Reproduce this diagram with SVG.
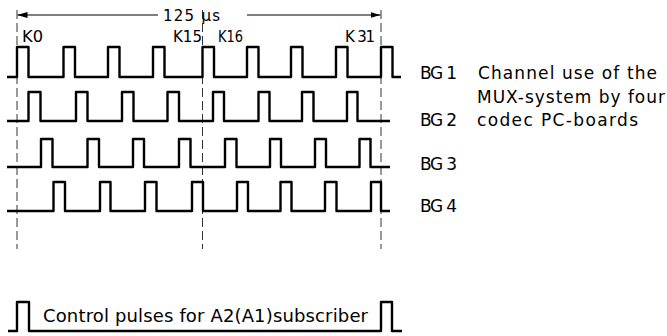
<svg xmlns="http://www.w3.org/2000/svg" width="667" height="336" viewBox="0 0 667 336">
<style>
.wave{fill:none;stroke:#000;stroke-width:2.4;stroke-linejoin:round;stroke-linecap:butt}
.dash{fill:none;stroke:#333;stroke-width:1;stroke-dasharray:9 4}
.dim{fill:none;stroke:#000;stroke-width:1.2}
.t{font-family:"DejaVu Sans","Liberation Sans",sans-serif;fill:#000}
.k{font-size:15px}
.lb{font-size:17px}
</style>
<defs>
<marker id="ah" viewBox="0 0 10 6" refX="10" refY="3" markerWidth="10" markerHeight="6" markerUnits="userSpaceOnUse" orient="auto-start-reverse">
<path d="M0,0 L10,3 L0,6 Z" fill="#000"/>
</marker>
</defs>
<rect width="667" height="336" fill="#fff"/>
<g id="connectors">
<line class="dash" x1="17" y1="10" x2="17" y2="249"/>
<line class="dash" x1="202.5" y1="10" x2="202.5" y2="249"/>
<line class="dash" x1="381" y1="10" x2="381" y2="249"/>
<line class="dim" x1="158" y1="15" x2="17.5" y2="15" marker-end="url(#ah)"/>
<line class="dim" x1="247" y1="15" x2="380.5" y2="15" marker-end="url(#ah)"/>
</g>
<g id="timescale">
<text class="t" x="163" y="21" font-size="15" textLength="57" lengthAdjust="spacing">125 µs</text>
<text class="t k" x="22" y="42" textLength="21" lengthAdjust="spacingAndGlyphs">K0</text>
<text class="t k" x="173" y="42" textLength="29" lengthAdjust="spacingAndGlyphs">K15</text>
<text class="t k" x="218" y="42" textLength="25" lengthAdjust="spacingAndGlyphs">K16</text>
<text class="t k" x="345" y="42" textLength="30" lengthAdjust="spacing">K 31</text>
</g>
<g id="bg1">
<path class="wave" d="M7,77 H17 V47 H28.5 V77 H63.5 V47 H75 V77 H108 V47 H119.5 V77 H153 V47 H164.5 V77 H202.5 V47 H214 V77 H247 V47 H258.5 V77 H291 V47 H302.5 V77 H336 V47 H347.5 V77 H381 V47 H392.5 V77 H401"/>
<text class="t lb" x="420" y="79" textLength="37" lengthAdjust="spacing">BG 1</text>
</g>
<g id="bg2">
<path class="wave" d="M7,121 H28.5 V92 H40.5 V121 H76 V92 H87.5 V121 H122 V92 H133.5 V121 H167.5 V92 H179 V121 H213 V92 H224 V121 H258.5 V92 H269.5 V121 H302 V92 H313.5 V121 H347 V92 H357.5 V121 H390"/>
<text class="t lb" x="420" y="126" textLength="37" lengthAdjust="spacing">BG 2</text>
</g>
<g id="bg3">
<path class="wave" d="M7,167 H41 V139 H52.5 V167 H87.5 V139 H99 V167 H133 V139 H144 V167 H179 V139 H190.5 V167 H225 V139 H236.5 V167 H270 V139 H281 V167 H315 V139 H326 V167 H359.5 V139 H370.5 V167 H390"/>
<text class="t lb" x="420" y="170" textLength="37" lengthAdjust="spacing">BG 3</text>
</g>
<g id="bg4">
<path class="wave" d="M7,211 H53.5 V182 H65 V211 H100 V182 H110.5 V211 H145 V182 H156.5 V211 H192 V182 H203 V211 H237 V182 H248 V211 H280.5 V182 H291.5 V211 H325 V182 H336.5 V211 H371 V182 H381 V211 H390"/>
<text class="t lb" x="420" y="212" textLength="37" lengthAdjust="spacing">BG 4</text>
</g>
<g id="caption">
<text class="t lb" x="478" y="79" textLength="179" lengthAdjust="spacing">Channel use of the</text>
<text class="t lb" x="477" y="103" textLength="188" lengthAdjust="spacing" fill="#222">MUX-system by four</text>
<text class="t lb" x="477" y="126" textLength="161" lengthAdjust="spacing">codec PC-boards</text>
</g>
<g id="control">
<path class="wave" d="M8,331 H17 V302 H29 V331 H381 V302 H392 V331 H402"/>
<text class="t" x="43" y="322" font-size="18" textLength="325" lengthAdjust="spacing">Control pulses for A2(A1)subscriber</text>
</g>
</svg>
